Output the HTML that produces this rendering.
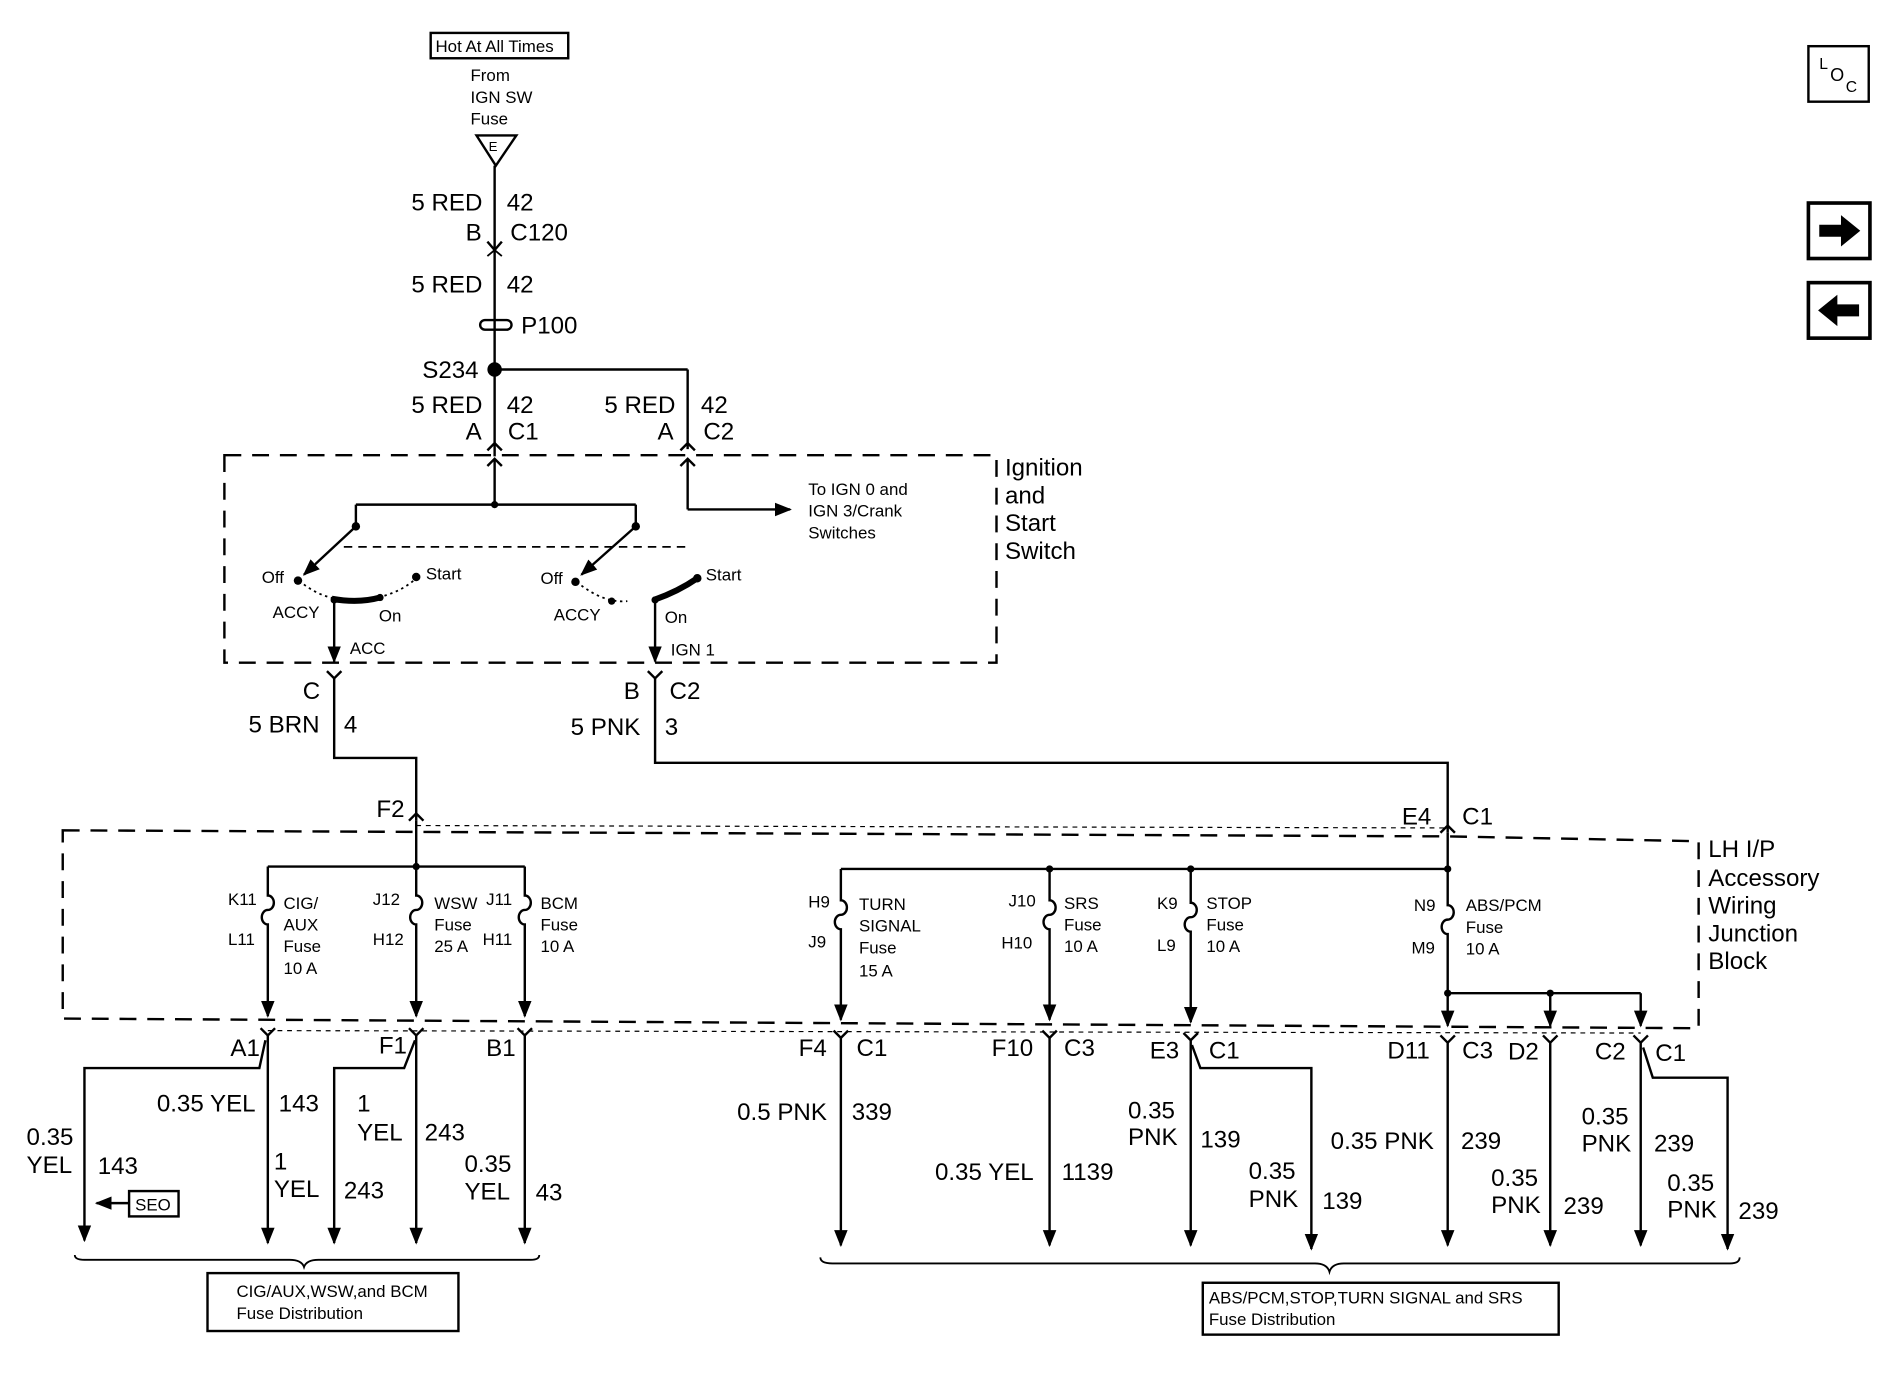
<!DOCTYPE html>
<html><head><meta charset="utf-8"><style>
html,body{margin:0;padding:0;background:#fff;}
svg{display:block;}
text{font-family:"Liberation Sans",sans-serif;fill:#000;}
.b{font-size:20px;}
.s{font-size:14px;}
</style></head><body>
<svg width="1882" height="1376" viewBox="0 0 1560 1140" xmlns="http://www.w3.org/2000/svg">
<defs>
<marker id="ar" viewBox="0 0 10 10" refX="9" refY="5" markerWidth="7" markerHeight="7" orient="auto"><path d="M0,1 L10,5 L0,9 z" fill="#000"/></marker>
</defs>
<g stroke="#000" stroke-width="2" fill="none">
<rect x="357" y="27" width="114" height="21"/>
<path d="M395,112 L428,112 L411,137 z"/>
<line x1="410" y1="137" x2="410" y2="378"/>
<path d="M404,200 L410,207 L416,200"/>
<path d="M404,212 L410,207 L416,212" stroke-width="1.5"/>
<rect x="398" y="265" width="26" height="8" rx="4"/>
<line x1="410" y1="306" x2="570" y2="306"/>
<line x1="570" y1="306" x2="570" y2="372"/>
<path d="M404,373 L410,367 L416,373"/><path d="M564,373 L570,367 L576,373"/>
<rect x="186" y="377" width="640" height="172" stroke-dasharray="14,9"/>
<path d="M404,386 L410,380 L416,386"/><path d="M564,386 L570,380 L576,386"/>
<line x1="410" y1="380" x2="410" y2="418"/>
<line x1="295" y1="418" x2="527" y2="418"/>
<line x1="295" y1="418" x2="295" y2="436"/>
<line x1="527" y1="418" x2="527" y2="436"/>
<line x1="295" y1="436" x2="252" y2="476" marker-end="url(#ar)"/>
<line x1="527" y1="436" x2="482" y2="476" marker-end="url(#ar)"/>
<line x1="285" y1="453" x2="568" y2="453" stroke-dasharray="7,5" stroke-width="1.5"/>
<line x1="570" y1="380" x2="570" y2="422"/>
<line x1="570" y1="422" x2="655" y2="422" marker-end="url(#ar)"/>
<path d="M248,481 Q270,500 300,497 Q330,494 346,478" stroke-dasharray="2,3" stroke-width="1.5"/>
<path d="M275,496 Q297,500 315,495" stroke-width="5"/>
<path d="M478,482 Q500,500 520,498" stroke-dasharray="2,3" stroke-width="1.5"/>
<path d="M542,497 Q562,490 578,479" stroke-width="5"/>
<line x1="277" y1="497" x2="277" y2="548" marker-end="url(#ar)"/>
<line x1="543" y1="497" x2="543" y2="548" marker-end="url(#ar)"/>
<path d="M271,556 L277,562 L283,556"/><path d="M537,556 L543,562 L549,556"/>
<path d="M277,562 L277,628 L345,628 L345,680"/>
<path d="M543,562 L543,632 L1200,632 L1200,690"/>
<path d="M339,680 L345,674 L351,680"/><path d="M1194,690 L1200,684 L1206,690"/>
<line x1="345" y1="684" x2="1200" y2="686" stroke-dasharray="4,4" stroke-width="1"/>
<path d="M52,688 L1200,693 L1408,697 L1408,852 L52,844 z" stroke-dasharray="14,9"/>
<line x1="345" y1="680" x2="345" y2="718"/>
<line x1="222" y1="718" x2="435" y2="718"/>
<line x1="1200" y1="690" x2="1200" y2="720"/>
<line x1="697" y1="720" x2="1200" y2="720"/>
<line x1="1200" y1="823" x2="1360" y2="823"/>
<line x1="222" y1="854" x2="1360" y2="856" stroke-dasharray="4,4" stroke-width="1"/>
<path d="M222,718 L222,742 A5,6 0 0 1 222,754 A5,6 0 0 0 222,766 L222,842" marker-end="url(#ar)"/>
<path d="M345,718 L345,742 A5,6 0 0 1 345,754 A5,6 0 0 0 345,766 L345,842" marker-end="url(#ar)"/>
<path d="M435,718 L435,742 A5,6 0 0 1 435,754 A5,6 0 0 0 435,766 L435,842" marker-end="url(#ar)"/>
<path d="M697,720 L697,746 A5,6 0 0 1 697,758 A5,6 0 0 0 697,770 L697,845" marker-end="url(#ar)"/>
<path d="M870,720 L870,746 A5,6 0 0 1 870,758 A5,6 0 0 0 870,770 L870,845" marker-end="url(#ar)"/>
<path d="M987,720 L987,748 A5,6 0 0 1 987,760 A5,6 0 0 0 987,772 L987,847" marker-end="url(#ar)"/>
<path d="M1200,720 L1200,750 A5,6 0 0 1 1200,762 A5,6 0 0 0 1200,774 L1200,850" marker-end="url(#ar)"/>
<line x1="1285" y1="823" x2="1285" y2="850" marker-end="url(#ar)"/>
<line x1="1360" y1="823" x2="1360" y2="850" marker-end="url(#ar)"/>
<path d="M216,852 L222,858 L228,852"/><path d="M339,852 L345,858 L351,852"/><path d="M429,852 L435,858 L441,852"/>
<path d="M691,854 L697,860 L703,854"/><path d="M864,854 L870,860 L876,854"/><path d="M981,856 L987,862 L993,856"/>
<path d="M1194,858 L1200,864 L1206,858"/><path d="M1279,858 L1285,864 L1291,858"/><path d="M1354,858 L1360,864 L1366,858"/>
<line x1="222" y1="858" x2="222" y2="1030" marker-end="url(#ar)"/>
<path d="M220,862 L215,885 L70,885 L70,1028" marker-end="url(#ar)"/>
<line x1="345" y1="858" x2="345" y2="1030" marker-end="url(#ar)"/>
<path d="M344,862 L335,885 L277,885 L277,1030" marker-end="url(#ar)"/>
<line x1="435" y1="858" x2="435" y2="1030" marker-end="url(#ar)"/>
<line x1="697" y1="860" x2="697" y2="1032" marker-end="url(#ar)"/>
<line x1="870" y1="860" x2="870" y2="1032" marker-end="url(#ar)"/>
<line x1="987" y1="862" x2="987" y2="1032" marker-end="url(#ar)"/>
<path d="M988,866 L995,885 L1087,885 L1087,1035" marker-end="url(#ar)"/>
<line x1="1200" y1="864" x2="1200" y2="1032" marker-end="url(#ar)"/>
<line x1="1285" y1="864" x2="1285" y2="1032" marker-end="url(#ar)"/>
<line x1="1360" y1="864" x2="1360" y2="1032" marker-end="url(#ar)"/>
<path d="M1362,868 L1370,893 L1432,893 L1432,1035" marker-end="url(#ar)"/>
<line x1="107" y1="997" x2="80" y2="997" marker-end="url(#ar)"/>
<rect x="107" y="987" width="41" height="21"/>
<path d="M62,1040 Q62,1044 70,1044 L240,1044 Q250,1044 252,1050 Q254,1044 264,1044 L440,1044 Q447,1044 447,1040" stroke-width="1.5"/>
<path d="M680,1042 Q680,1047 690,1047 L1090,1047 Q1100,1047 1102,1054 Q1104,1047 1114,1047 L1434,1047 Q1442,1047 1442,1042" stroke-width="1.5"/>
<rect x="172" y="1055" width="208" height="48"/>
<rect x="997" y="1063" width="295" height="43"/>
<rect x="1499" y="38" width="50" height="46"/>
<rect x="1499" y="168" width="51" height="46" stroke-width="3"/>
<rect x="1499" y="234" width="51" height="46" stroke-width="3"/>
</g>
<circle cx="410" cy="306" r="6"/>
<g fill="#000">
<circle cx="410" cy="418" r="3"/><circle cx="295" cy="436" r="3.5"/><circle cx="527" cy="436" r="3.5"/>
<circle cx="247" cy="481" r="3.5"/><circle cx="345" cy="478" r="3.5"/><circle cx="277" cy="497" r="3"/><circle cx="315" cy="495" r="3"/>
<circle cx="477" cy="482" r="3.5"/><circle cx="578" cy="479" r="3.5"/><circle cx="507" cy="498" r="3"/><circle cx="543" cy="497" r="3"/>
<circle cx="345" cy="718" r="3"/><circle cx="870" cy="720" r="3"/><circle cx="987" cy="720" r="3"/><circle cx="1200" cy="720" r="3"/>
<circle cx="1200" cy="823" r="3"/><circle cx="1285" cy="823" r="3"/>
<path d="M1508,186 L1526,186 L1526,178 L1542,191 L1526,204 L1526,196 L1508,196 z"/>
<path d="M1541,252 L1523,252 L1523,244 L1507,257 L1523,270 L1523,262 L1541,262 z"/>
</g>
<text class="s" x="361" y="43">Hot At All Times</text>
<text class="s" x="390" y="67">From</text><text class="s" x="390" y="85">IGN SW</text><text class="s" x="390" y="103">Fuse</text>
<text class="s" x="405" y="125" style="font-size:11px">E</text>
<text class="b" x="341" y="174">5 RED</text><text class="b" x="420" y="174">42</text>
<text class="b" x="386" y="199">B</text><text class="b" x="423" y="199">C120</text>
<text class="b" x="341" y="242">5 RED</text><text class="b" x="420" y="242">42</text>
<text class="b" x="432" y="276">P100</text>
<text class="b" x="350" y="313">S234</text>
<text class="b" x="341" y="342">5 RED</text><text class="b" x="420" y="342">42</text>
<text class="b" x="501" y="342">5 RED</text><text class="b" x="581" y="342">42</text>
<text class="b" x="386" y="364">A</text><text class="b" x="421" y="364">C1</text>
<text class="b" x="545" y="364">A</text><text class="b" x="583" y="364">C2</text>
<text class="s" x="670" y="410">To IGN 0 and</text><text class="s" x="670" y="428">IGN 3/Crank</text><text class="s" x="670" y="446">Switches</text>
<text class="b" x="833" y="394">Ignition</text><text class="b" x="833" y="417">and</text><text class="b" x="833" y="440">Start</text><text class="b" x="833" y="463">Switch</text>
<text class="s" x="217" y="483">Off</text><text class="s" x="353" y="480">Start</text><text class="s" x="226" y="512">ACCY</text><text class="s" x="314" y="515">On</text><text class="s" x="290" y="542">ACC</text>
<text class="s" x="448" y="484">Off</text><text class="s" x="585" y="481">Start</text><text class="s" x="459" y="514">ACCY</text><text class="s" x="551" y="516">On</text><text class="s" x="556" y="543">IGN 1</text>
<text class="b" x="251" y="579">C</text><text class="b" x="517" y="579">B</text><text class="b" x="555" y="579">C2</text>
<text class="b" x="206" y="607">5 BRN</text><text class="b" x="285" y="607">4</text>
<text class="b" x="473" y="609">5 PNK</text><text class="b" x="551" y="609">3</text>
<text class="b" x="312" y="677">F2</text><text class="b" x="1162" y="683">E4</text><text class="b" x="1212" y="683">C1</text>
<text class="b" x="1416" y="710">LH I/P</text><text class="b" x="1416" y="734">Accessory</text><text class="b" x="1416" y="757">Wiring</text><text class="b" x="1416" y="780">Junction</text><text class="b" x="1416" y="803">Block</text>
<text class="s" x="189" y="750">K11</text><text class="s" x="189" y="783">L11</text>
<text class="s" x="235" y="753">CIG/</text><text class="s" x="235" y="771">AUX</text><text class="s" x="235" y="789">Fuse</text><text class="s" x="235" y="807">10 A</text>
<text class="s" x="309" y="750">J12</text><text class="s" x="309" y="783">H12</text>
<text class="s" x="360" y="753">WSW</text><text class="s" x="360" y="771">Fuse</text><text class="s" x="360" y="789">25 A</text>
<text class="s" x="403" y="750">J11</text><text class="s" x="400" y="783">H11</text>
<text class="s" x="448" y="753">BCM</text><text class="s" x="448" y="771">Fuse</text><text class="s" x="448" y="789">10 A</text>
<text class="s" x="670" y="752">H9</text><text class="s" x="670" y="785">J9</text>
<text class="s" x="712" y="754">TURN</text><text class="s" x="712" y="772">SIGNAL</text><text class="s" x="712" y="790">Fuse</text><text class="s" x="712" y="809">15 A</text>
<text class="s" x="836" y="751">J10</text><text class="s" x="830" y="786">H10</text>
<text class="s" x="882" y="753">SRS</text><text class="s" x="882" y="771">Fuse</text><text class="s" x="882" y="789">10 A</text>
<text class="s" x="959" y="753">K9</text><text class="s" x="959" y="788">L9</text>
<text class="s" x="1000" y="753">STOP</text><text class="s" x="1000" y="771">Fuse</text><text class="s" x="1000" y="789">10 A</text>
<text class="s" x="1172" y="755">N9</text><text class="s" x="1170" y="790">M9</text>
<text class="s" x="1215" y="755">ABS/PCM</text><text class="s" x="1215" y="773">Fuse</text><text class="s" x="1215" y="791">10 A</text>
<text class="b" x="191" y="875">A1</text><text class="b" x="314" y="873">F1</text><text class="b" x="403" y="875">B1</text>
<text class="b" x="662" y="875">F4</text><text class="b" x="710" y="875">C1</text>
<text class="b" x="822" y="875">F10</text><text class="b" x="882" y="875">C3</text>
<text class="b" x="953" y="877">E3</text><text class="b" x="1002" y="877">C1</text>
<text class="b" x="1150" y="877">D11</text><text class="b" x="1212" y="877">C3</text>
<text class="b" x="1250" y="878">D2</text><text class="b" x="1322" y="878">C2</text><text class="b" x="1372" y="879">C1</text>
<text class="b" x="130" y="921">0.35 YEL</text><text class="b" x="231" y="921">143</text>
<text class="b" x="22" y="949">0.35</text><text class="b" x="22" y="972">YEL</text><text class="b" x="81" y="973">143</text>
<text class="s" x="112" y="1003">SEO</text>
<text class="b" x="227" y="969">1</text><text class="b" x="227" y="992">YEL</text><text class="b" x="285" y="993">243</text>
<text class="b" x="296" y="921">1</text><text class="b" x="296" y="945">YEL</text><text class="b" x="352" y="945">243</text>
<text class="b" x="385" y="971">0.35</text><text class="b" x="385" y="994">YEL</text><text class="b" x="444" y="995">43</text>
<text class="b" x="611" y="928">0.5 PNK</text><text class="b" x="706" y="928">339</text>
<text class="b" x="775" y="978">0.35 YEL</text><text class="b" x="880" y="978">1139</text>
<text class="b" x="935" y="927">0.35</text><text class="b" x="935" y="949">PNK</text><text class="b" x="995" y="951">139</text>
<text class="b" x="1035" y="977">0.35</text><text class="b" x="1035" y="1000">PNK</text><text class="b" x="1096" y="1002">139</text>
<text class="b" x="1103" y="952">0.35 PNK</text><text class="b" x="1211" y="952">239</text>
<text class="b" x="1236" y="983">0.35</text><text class="b" x="1236" y="1005">PNK</text><text class="b" x="1296" y="1006">239</text>
<text class="b" x="1311" y="932">0.35</text><text class="b" x="1311" y="954">PNK</text><text class="b" x="1371" y="954">239</text>
<text class="b" x="1382" y="987">0.35</text><text class="b" x="1382" y="1009">PNK</text><text class="b" x="1441" y="1010">239</text>
<text class="s" x="196" y="1075">CIG/AUX,WSW,and BCM</text><text class="s" x="196" y="1093">Fuse Distribution</text>
<text class="s" x="1002" y="1080">ABS/PCM,STOP,TURN SIGNAL and SRS</text><text class="s" x="1002" y="1098">Fuse Distribution</text>
<text x="1508" y="57" style="font-size:13px">L</text><text x="1517" y="67" style="font-size:15px">O</text><text x="1530" y="76" style="font-size:13px">C</text>
</svg>
</body></html>
